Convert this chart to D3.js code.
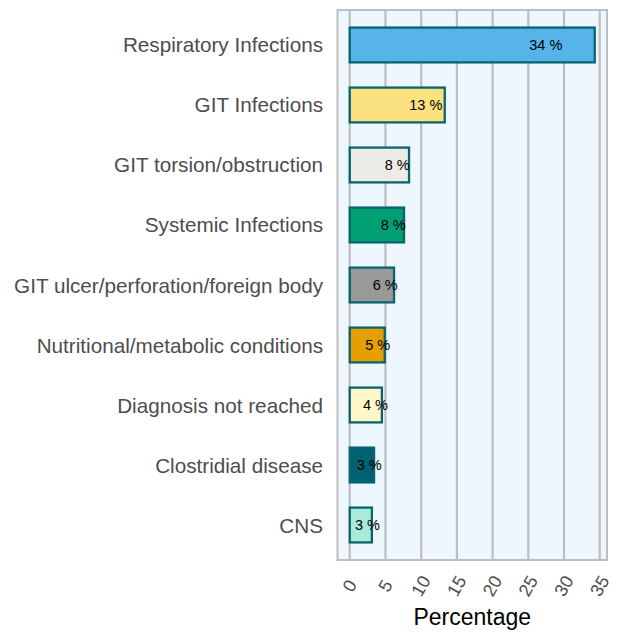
<!DOCTYPE html>
<html>
<head>
<meta charset="utf-8">
<script src="https://cdn.jsdelivr.net/npm/d3@7"></script>
<style>
  body { margin: 0; background: #fff; }
  text { font-family: "Liberation Sans", Arial, sans-serif; }
</style>
</head>
<body>
<div id="chart"></div>
<script>
const categories = [
    "Respiratory Infections",
    "GIT Infections",
    "GIT torsion/obstruction",
    "Systemic Infections",
    "GIT ulcer/perforation/foreign body",
    "Nutritional/metabolic conditions",
    "Diagnosis not reached",
    "Clostridial disease",
    "CNS"
];
const percentages = [34.3, 13.3, 8.3, 7.6, 6.2, 4.9, 4.5, 3.4, 3.1];
const labels = ["34 %", "13 %", "8 %", "8 %", "6 %", "5 %", "4 %", "3 %", "3 %"];
const fills = ["#56B4E9", "#FBE07F", "#EDEBE7", "#009E73", "#999999", "#E69F00", "#FFF8C8", "#006270", "#A8EBD8"];
const xTicks = [0, 5, 10, 15, 20, 25, 30, 35];

const width = 619, height = 635;
const margin = {top: 10, right: 12, bottom: 75, left: 337.5};
const innerW = width - margin.left - margin.right,
    innerH = height - margin.top - margin.bottom;

const svg = d3.select("#chart")
    .append("svg")
    .attr("width", width)
    .attr("height", height)
    .append("g")
    .attr("transform", "translate(" + margin.left + "," + margin.top + ")");

const data = categories.map((c, i) => ({cat: c, value: percentages[i], label: labels[i], fill: fills[i]}));

// ggplot-like 5% expansion
const maxV = d3.max(percentages);
const pad = maxV * 0.05;
const x = d3.scaleLinear()
    .domain([-pad, maxV + pad])
    .range([0, innerW]);

const y = d3.scaleBand()
    .domain(categories)
    .range([0, innerH])
    .paddingInner(0.42)
    .paddingOuter(0.293);

// panel
svg.append("rect")
    .attr("width", innerW)
    .attr("height", innerH)
    .attr("fill", "#EEF6FE");

// grid
svg.append("g")
    .selectAll("line")
    .data(xTicks)
    .join("line")
    .attr("x1", d => x(d))
    .attr("x2", d => x(d))
    .attr("y1", 0)
    .attr("y2", innerH)
    .attr("stroke", "#BEBEBE")
    .attr("stroke-width", 2.2);

// bars
svg.append("g")
    .selectAll("rect")
    .data(data)
    .join("rect")
    .attr("x", x(0))
    .attr("y", d => y(d.cat))
    .attr("width", d => x(d.value) - x(0))
    .attr("height", y.bandwidth())
    .attr("fill", d => d.fill)
    .attr("stroke", "#0A6470")
    .attr("stroke-width", 2.3);

// value labels
svg.append("g")
    .selectAll("text")
    .data(data)
    .join("text")
    .attr("x", d => x(d.value * 0.8))
    .attr("y", d => y(d.cat) + y.bandwidth() / 2)
    .attr("text-anchor", "middle")
    .attr("dominant-baseline", "central")
    .attr("font-size", 14.5)
    .attr("fill", "#000")
    .text(d => d.label);

// panel border
svg.append("rect")
    .attr("width", innerW)
    .attr("height", innerH)
    .attr("fill", "none")
    .attr("stroke", "#BEBEBE")
    .attr("stroke-width", 2);

// y labels
svg.append("g")
    .selectAll("text")
    .data(categories)
    .join("text")
    .attr("x", -14.5)
    .attr("y", d => y(d) + y.bandwidth() / 2)
    .attr("text-anchor", "end")
    .attr("dominant-baseline", "central")
    .attr("font-size", 20.7)
    .attr("fill", "#4D4D4D")
    .text(d => d);

// x tick labels, rotated
svg.append("g")
    .selectAll("text")
    .data(xTicks)
    .join("text")
    .attr("transform", d => `translate(${x(d)}, ${innerH + 26}) rotate(-60)`)
    .attr("text-anchor", "middle")
    .attr("dominant-baseline", "central")
    .attr("font-size", 18)
    .attr("fill", "#4D4D4D")
    .text(d => d);

// x title
svg.append("text")
    .attr("x", innerW / 2)
    .attr("y", innerH + 65)
    .attr("text-anchor", "middle")
    .attr("font-size", 23)
    .attr("fill", "#000")
    .text("Percentage");
</script>
</body>
</html>
